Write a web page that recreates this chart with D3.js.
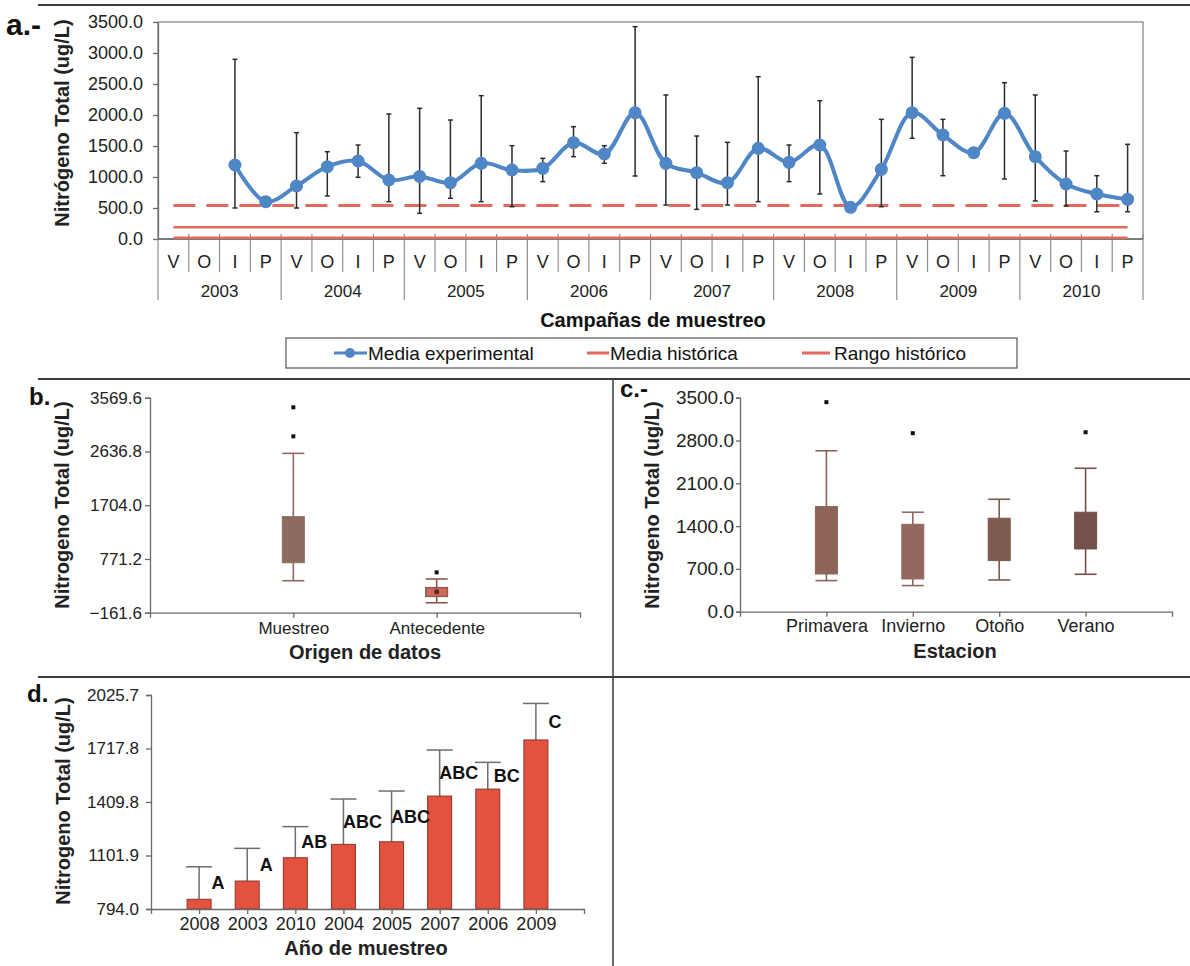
<!DOCTYPE html>
<html>
<head>
<meta charset="utf-8">
<script src="https://cdn.jsdelivr.net/npm/d3@7"></script>
<style>
  body { margin: 0; background: #fff; }
  svg { display: block; }
  text { font-family: "Liberation Sans", Arial, sans-serif; }
</style>
</head>
<body>
<svg id="fig" width="1190" height="966"></svg>
<script>
// ---- a: seasonal campaigns 2003-2010 ----
const years = ["2003", "2004", "2005", "2006", "2007", "2008", "2009", "2010"];
const seasons = ["V", "O", "I", "P"];
const campaignMean = [null, null, 1194, 602, 855, 1166, 1258, 952,
  1010, 908, 1221, 1113, 1140, 1554, 1371, 2038,
  1221, 1070, 908, 1462, 1237, 1516, 511, 1124,
  2038, 1677, 1392, 2027, 1328, 887, 726, 640];
const campaignHigh = [null, null, 2898, null, 1715, 1408, 1516, 2016,
  2108, 1919, 2312, 1505, 1301, 1812, 1505, 3425,
  2323, 1661, 1559, 2618, 1516, 2231, 570, 1930,
  2930, 1930, null, 2521, 2323, 1419, 1021, 1527];
const campaignLow = [null, null, 500, null, 500, 694, 995, 602,
  414, 656, 602, 521, 925, 1328, 1221, 1016,
  548, 478, 548, 602, 925, 726, 468, 521,
  1624, 1021, null, 968, 613, 532, 440, 440];
const historicMean = 540;
const historicRange = [20, 190];
const ticksA = [0, 500, 1000, 1500, 2000, 2500, 3000, 3500];

// ---- b: data origin ----
const origins = ["Muestreo", "Antecedente"];
const originLow = [393, 11];
const originQ1 = [706, 117];
const originQ3 = [1505, 277];
const originHigh = [2604, 423];
const originCenter = [null, 200];
const originOutliers = [[3403, 2899], [538]];
const ticksB = [-161.6, 771.2, 1704.0, 2636.8, 3569.6];

// ---- c: season ----
const seasonNames = ["Primavera", "Invierno", "Otoño", "Verano"];
const seasonLow = [509, 427, 519, 612];
const seasonQ1 = [617, 535, 836, 1026];
const seasonQ3 = [1719, 1430, 1529, 1627];
const seasonHigh = [2632, 1627, 1839, 2346];
const seasonOutliers = [[3427], [2920], [], [2935]];
const seasonColors = ["#8d6358", "#93695f", "#7e5a51", "#72524a"];
const ticksC = [0, 700, 1400, 2100, 2800, 3500];

// ---- d: sampling year ----
const yearOrder = ["2008", "2003", "2010", "2004", "2005", "2007", "2006", "2009"];
const yearMean = [850, 955, 1089, 1166, 1181, 1444, 1484, 1767];
const yearUpper = [1037, 1143, 1268, 1427, 1473, 1709, 1638, 1977];
const yearGroups = ["A", "A", "AB", "ABC", "ABC", "ABC", "BC", "C"];
const ticksD = [794.0, 1101.9, 1409.8, 1717.8, 2025.7];

const svg = d3.select("#fig");
const AX = "#6a6a6a";
const RED = "#e26a5d";
const BLUE = "#4f86c6";
const BROWN = "#8c6b60";

// panel frame lines
const frame = svg.append("g").attr("stroke", "#3a3a3a");
frame.append("line").attr("x1", 38).attr("x2", 1190).attr("y1", 5).attr("y2", 5).attr("stroke-width", 2);
frame.append("line").attr("x1", 38).attr("x2", 1190).attr("y1", 379).attr("y2", 379).attr("stroke-width", 2);
frame.append("line").attr("x1", 38).attr("x2", 1190).attr("y1", 677).attr("y2", 677).attr("stroke-width", 2);
frame.append("line").attr("x1", 613).attr("x2", 613).attr("y1", 379).attr("y2", 966).attr("stroke-width", 1.5);

function panelTag(txt, x, y, size) {
  svg.append("text").attr("x", x).attr("y", y).attr("font-size", size)
    .attr("font-weight", "bold").attr("fill", "#111").text(txt);
}
function yTitle(txt, x, y, size) {
  svg.append("text").attr("transform", `translate(${x},${y}) rotate(-90)`)
    .attr("text-anchor", "middle").attr("dy", "0.35em").attr("font-size", size)
    .attr("font-weight", "bold").attr("fill", "#222").text(txt);
}
function styleAxis(g, fs) {
  g.selectAll("path, line").attr("stroke", AX).attr("stroke-width", 1.3);
  g.selectAll("text").attr("fill", "#222").attr("font-size", fs)
    .attr("font-family", "\"Liberation Sans\", Arial, sans-serif");
}

// ================= a =================
const campaigns = years.flatMap(y => seasons.map(s => y + "-" + s));
const xa = d3.scaleBand().domain(campaigns).range([158, 1143]);
const ya = d3.scaleLinear().domain([0, 3500]).range([239, 22]);
const cx = i => xa(campaigns[i]) + xa.bandwidth() / 2;

const ga = svg.append("g");
ga.append("rect").attr("x", 158).attr("y", 22).attr("width", 1143 - 158).attr("height", 239 - 22)
  .attr("fill", "none").attr("stroke", "#8a8a8a").attr("stroke-width", 1.3);

const axA = ga.append("g").attr("transform", "translate(158,0)")
  .call(d3.axisLeft(ya).tickValues(ticksA).tickFormat(d3.format(".1f")).tickSize(5).tickPadding(10).tickSizeOuter(0));
styleAxis(axA, 18);

// category table under the axis
const bw = xa.bandwidth();
d3.range(campaigns.length + 1).forEach(k => {
  const x = 158 + k * bw;
  ga.append("line").attr("x1", x).attr("x2", x).attr("y1", 234)
    .attr("y2", k % 4 === 0 ? 300 : 272).attr("stroke", "#8f8f8f").attr("stroke-width", 1.2);
});
ga.append("line").attr("x1", 158).attr("x2", 1143).attr("y1", 239).attr("y2", 239)
  .attr("stroke", AX).attr("stroke-width", 1.3);
ga.selectAll("text.season").data(campaigns).join("text").attr("class", "season")
  .attr("x", d => xa(d) + bw / 2).attr("y", 262).attr("dy", "0.35em")
  .attr("text-anchor", "middle").attr("font-size", 18).attr("fill", "#222")
  .text(d => d.split("-")[1]);
ga.selectAll("text.year").data(years).join("text").attr("class", "year")
  .attr("x", y => (xa(y + "-V") + xa(y + "-P") + bw) / 2).attr("y", 291).attr("dy", "0.35em")
  .attr("text-anchor", "middle").attr("font-size", 17).attr("fill", "#222").text(d => d);

// historical reference lines
const x0 = cx(0), x1 = cx(campaigns.length - 1);
ga.append("line").attr("x1", x0).attr("x2", x1).attr("y1", ya(historicRange[0])).attr("y2", ya(historicRange[0]))
  .attr("stroke", RED).attr("stroke-width", 2.5);
ga.append("line").attr("x1", x0).attr("x2", x1).attr("y1", ya(historicRange[1])).attr("y2", ya(historicRange[1]))
  .attr("stroke", RED).attr("stroke-width", 2.5);
ga.append("line").attr("x1", x0).attr("x2", x1).attr("y1", ya(historicMean)).attr("y2", ya(historicMean))
  .attr("stroke", RED).attr("stroke-width", 3).attr("stroke-dasharray", "22,11");

// error bars
const errIdx = d3.range(campaigns.length).filter(i => campaignHigh[i] != null);
const eb = ga.append("g").attr("stroke", "#2b2b2b").attr("stroke-width", 1.5);
errIdx.forEach(i => {
  const x = cx(i);
  eb.append("line").attr("x1", x).attr("x2", x).attr("y1", ya(campaignLow[i])).attr("y2", ya(campaignHigh[i]));
  eb.append("line").attr("x1", x - 2.5).attr("x2", x + 2.5).attr("y1", ya(campaignHigh[i])).attr("y2", ya(campaignHigh[i]));
  eb.append("line").attr("x1", x - 2.5).attr("x2", x + 2.5).attr("y1", ya(campaignLow[i])).attr("y2", ya(campaignLow[i]));
});

// mean line
const pts = d3.range(campaigns.length).filter(i => campaignMean[i] != null);
const line = d3.line().x(i => cx(i)).y(i => ya(campaignMean[i])).curve(d3.curveCatmullRom.alpha(0.5));
ga.append("path").attr("d", line(pts)).attr("fill", "none").attr("stroke", BLUE).attr("stroke-width", 4);
ga.selectAll("circle.m").data(pts).join("circle").attr("class", "m")
  .attr("cx", i => cx(i)).attr("cy", i => ya(campaignMean[i])).attr("r", 6.5).attr("fill", BLUE);

panelTag("a.-", 6, 35, 30);
yTitle("Nitrógeno Total (ug/L)", 62, 123, 20);
svg.append("text").attr("x", 653).attr("y", 320).attr("dy", "0.35em").attr("text-anchor", "middle")
  .attr("font-size", 20).attr("font-weight", "bold").attr("fill", "#111").text("Campañas de muestreo");

// legend
const lg = svg.append("g");
lg.append("rect").attr("x", 286).attr("y", 338).attr("width", 731).attr("height", 30)
  .attr("fill", "#fff").attr("stroke", "#555").attr("stroke-width", 1.2);
lg.append("line").attr("x1", 334).attr("x2", 367).attr("y1", 353).attr("y2", 353).attr("stroke", BLUE).attr("stroke-width", 3);
lg.append("circle").attr("cx", 350).attr("cy", 353).attr("r", 5).attr("fill", BLUE);
lg.append("line").attr("x1", 587).attr("x2", 609).attr("y1", 353).attr("y2", 353).attr("stroke", RED).attr("stroke-width", 3);
lg.append("line").attr("x1", 802).attr("x2", 830).attr("y1", 353).attr("y2", 353).attr("stroke", RED).attr("stroke-width", 3);
[["Media experimental", 368], ["Media histórica", 610], ["Rango histórico", 834]].forEach(([t, x]) => {
  lg.append("text").attr("x", x).attr("y", 353).attr("dy", "0.35em").attr("font-size", 19)
    .attr("fill", "#111").text(t);
});

// ================= boxplot helper =================
function boxplot(g, xs, ys, cats, low, q1, q3, high, outl, colors, w) {
  cats.forEach((c, i) => {
    const x = xs(c);
    const col = colors[i];
    g.append("line").attr("x1", x).attr("x2", x).attr("y1", ys(low[i])).attr("y2", ys(high[i]))
      .attr("stroke", col).attr("stroke-width", 1.6);
    [low[i], high[i]].forEach(v => g.append("line").attr("x1", x - w / 2).attr("x2", x + w / 2)
      .attr("y1", ys(v)).attr("y2", ys(v)).attr("stroke", col).attr("stroke-width", 1.6));
    g.append("rect").attr("x", x - w / 2).attr("y", ys(q3[i])).attr("width", w)
      .attr("height", ys(q1[i]) - ys(q3[i])).attr("fill", col).attr("stroke", col).attr("stroke-width", 1);
    outl[i].forEach(v => g.append("rect").attr("x", x - 2).attr("y", ys(v) - 2)
      .attr("width", 4).attr("height", 4).attr("fill", "#111"));
  });
}

// ================= b =================
const xb = d3.scalePoint().domain(origins).range([150, 580]).padding(1);
const yb = d3.scaleLinear().domain([ticksB[0], ticksB[ticksB.length - 1]]).range([612.7, 397.7]);
const gb = svg.append("g");
styleAxis(gb.append("g").attr("transform", "translate(150,0)")
  .call(d3.axisLeft(yb).tickValues(ticksB).tickFormat(d3.format(".1f")).tickSize(5).tickPadding(3)), 17);
styleAxis(gb.append("g").attr("transform", "translate(0,612.7)")
  .call(d3.axisBottom(xb).tickSize(5).tickPadding(4)), 17);
boxplot(gb, xb, yb, origins, originLow, originQ1, originQ3, originHigh, originOutliers, [BROWN, "#8a5a4e"], 22);
// historical box drawn in red with central marker
const xAnt = xb("Antecedente");
gb.append("rect").attr("x", xAnt - 10).attr("y", yb(originQ3[1]) + 1).attr("width", 20)
  .attr("height", yb(originQ1[1]) - yb(originQ3[1]) - 2).attr("fill", "#d3675c");
originCenter.forEach((v, i) => {
  if (v != null) gb.append("circle").attr("cx", xb(origins[i])).attr("cy", yb(v)).attr("r", 2.5).attr("fill", "#5a2a22");
});
panelTag("b.", 29, 405, 24);
yTitle("Nitrogeno Total (ug/L)", 62, 505, 20);
svg.append("text").attr("x", 365).attr("y", 652).attr("dy", "0.35em").attr("text-anchor", "middle")
  .attr("font-size", 20).attr("font-weight", "bold").attr("fill", "#222").text("Origen de datos");

// ================= c =================
const xc = d3.scalePoint().domain(seasonNames).range([740, 1172]).padding(1);
const yc = d3.scaleLinear().domain([0, 3500]).range([611.7, 397.7]);
const gc = svg.append("g");
styleAxis(gc.append("g").attr("transform", "translate(740,0)")
  .call(d3.axisLeft(yc).tickValues(ticksC).tickFormat(d3.format(".1f")).tickSize(4).tickPadding(2)), 19);
styleAxis(gc.append("g").attr("transform", "translate(0,611.7)")
  .call(d3.axisBottom(xc).tickSize(5).tickPadding(3)), 18);
boxplot(gc, xc, yc, seasonNames, seasonLow, seasonQ1, seasonQ3, seasonHigh, seasonOutliers, seasonColors, 22);
panelTag("c.-", 620, 397, 24);
yTitle("Nitrogeno Total (ug/L)", 652, 505, 20);
svg.append("text").attr("x", 955).attr("y", 651).attr("dy", "0.35em").attr("text-anchor", "middle")
  .attr("font-size", 20).attr("font-weight", "bold").attr("fill", "#222").text("Estacion");

// ================= d =================
const xd = d3.scalePoint().domain(yearOrder).range([151, 584]).padding(1);
const yd = d3.scaleLinear().domain([ticksD[0], ticksD[ticksD.length - 1]]).range([909, 695]);
const gd = svg.append("g");
// error bars above the bars
yearOrder.forEach((yr, i) => {
  const x = xd(yr);
  gd.append("line").attr("x1", x).attr("x2", x).attr("y1", yd(yearMean[i])).attr("y2", yd(yearUpper[i]))
    .attr("stroke", "#6e6e6e").attr("stroke-width", 1.5);
  gd.append("line").attr("x1", x - 13).attr("x2", x + 13).attr("y1", yd(yearUpper[i])).attr("y2", yd(yearUpper[i]))
    .attr("stroke", "#6e6e6e").attr("stroke-width", 1.5);
});
gd.selectAll("rect.bar").data(yearOrder).join("rect").attr("class", "bar")
  .attr("x", d => xd(d) - 12).attr("width", 24)
  .attr("y", (d, i) => yd(yearMean[i])).attr("height", (d, i) => yd(ticksD[0]) - yd(yearMean[i]))
  .attr("fill", "#e2523f").attr("stroke", "#8e3326").attr("stroke-width", 1);
styleAxis(gd.append("g").attr("transform", "translate(151,0)")
  .call(d3.axisLeft(yd).tickValues(ticksD).tickFormat(d3.format(".1f")).tickSize(5).tickPadding(7)), 17);
styleAxis(gd.append("g").attr("transform", "translate(0,909)")
  .call(d3.axisBottom(xd).tickSize(5).tickPadding(3)), 18);
gd.selectAll("text.grp").data(yearOrder).join("text").attr("class", "grp")
  .attr("x", d => xd(d) + 19)
  .attr("y", (d, i) => (yd(yearMean[i]) + yd(yearUpper[i])) / 2).attr("dy", "0.35em")
  .attr("text-anchor", "middle").attr("font-size", 18).attr("font-weight", "bold").attr("fill", "#111")
  .text((d, i) => yearGroups[i]);
panelTag("d.", 27, 702, 24);
yTitle("Nitrogeno Total (ug/L)", 63, 801, 20);
svg.append("text").attr("x", 366).attr("y", 948).attr("dy", "0.35em").attr("text-anchor", "middle")
  .attr("font-size", 20).attr("font-weight", "bold").attr("fill", "#222").text("Año de muestreo");
</script>
</body>
</html>
